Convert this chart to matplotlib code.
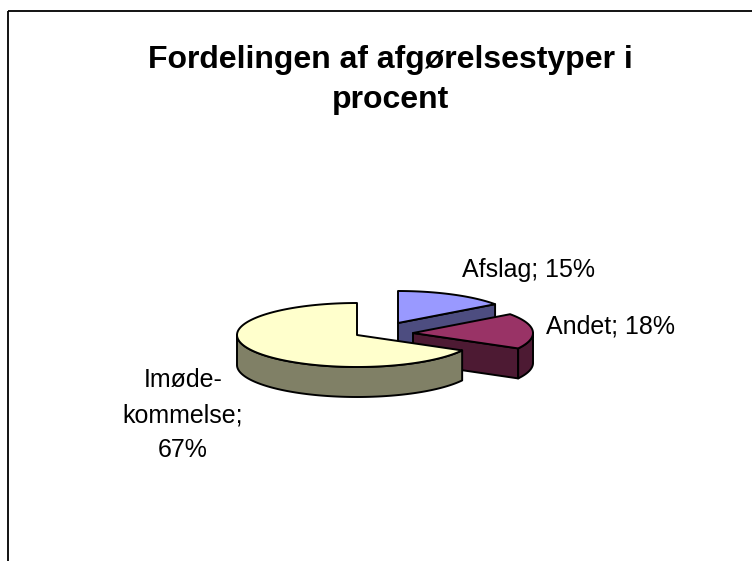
import matplotlib
matplotlib.use('Agg')
import numpy as np
import matplotlib.pyplot as plt
from matplotlib.patches import Polygon, Rectangle

# Data
labels = ['Afslag', 'Andet', 'Imøde-\nkommelse']
shares = [15, 18, 67]
top_colors = ['#9999FF', '#993366', '#FFFFCC']
side_colors = ['#4D4D80', '#4D1A33', '#808066']

title = 'Fordelingen af afgørelsestyper i\nprocent'

# Layout of the pseudo 3D pie (pixel units)
cx, cy = 357, 335
ra, rb = 120, 32
depth = 30
explode = [(41, -12), (56, -2), (0, 0)]
label_pos = [(529, 270), (611, 326), (183, 415)]

plt.rcParams['font.family'] = ['Liberation Sans', 'DejaVu Sans']

fig = plt.figure(figsize=(7.52, 5.61), dpi=100)
ax = fig.add_axes([0, 0, 1, 1])
ax.set_xlim(0, 752)
ax.set_ylim(561, 0)
ax.axis('off')

ax.add_patch(Rectangle((8, 11), 800, 600, fill=False, edgecolor='black', lw=1.3))


def rim(x0, y0, t):
    t = np.radians(t)
    return x0 + ra * np.cos(t), y0 - rb * np.sin(t)


def arc(x0, y0, t0, t1, n=120):
    ts = np.linspace(t0, t1, n)
    xs, ys = rim(x0, y0, ts)
    return np.column_stack([xs, ys])


def draw_slice(t_start, t_end, off, top_c, side_c, z):
    x0, y0 = cx + off[0], cy + off[1]
    kw = dict(edgecolor='black', lw=1.4, joinstyle='round')
    # radial faces
    for t, vis in ((t_start, np.cos(np.radians(t_start)) < -1e-6),
                   (t_end, np.cos(np.radians(t_end)) > 1e-6)):
        if vis:
            px, py = rim(x0, y0, t)
            face = [(x0, y0), (px, py), (px, py + depth), (x0, y0 + depth)]
            ax.add_patch(Polygon(face, closed=True, facecolor=side_c, zorder=z, **kw))
    # outer wall, front half only
    lo, hi = t_end, t_start
    for k in range(-2, 2):
        a0 = max(lo, 180 + 360 * k)
        a1 = min(hi, 360 + 360 * k)
        if a1 > a0:
            top = arc(x0, y0, a0, a1)
            bot = top[::-1] + [0, depth]
            ax.add_patch(Polygon(np.vstack([top, bot]), closed=True,
                                 facecolor=side_c, zorder=z, **kw))
    # top face
    pts = np.vstack([[(x0, y0)], arc(x0, y0, t_start, t_end)])
    ax.add_patch(Polygon(pts, closed=True, facecolor=top_c, zorder=z + 0.5, **kw))


angle = 90.0
order = [0, 1, 2]
spans = []
for v in shares:
    sweep = 360.0 * v / sum(shares)
    spans.append((angle, angle - sweep))
    angle -= sweep

for i in order:
    draw_slice(spans[i][0], spans[i][1], explode[i], top_colors[i], side_colors[i], 2 + i)

for i, (lx, ly) in enumerate(label_pos):
    txt = f'{labels[i]};\n{shares[i]}%' if '\n' in labels[i] else f'{labels[i]}; {shares[i]}%'
    ax.text(lx, ly, txt, ha='center', va='center', fontsize=18,
            linespacing=1.6, zorder=10)

ax.text(390, 80, title, ha='center', va='center', fontsize=23,
        fontweight='bold', linespacing=1.45)

fig.savefig('out.png', dpi=100)
